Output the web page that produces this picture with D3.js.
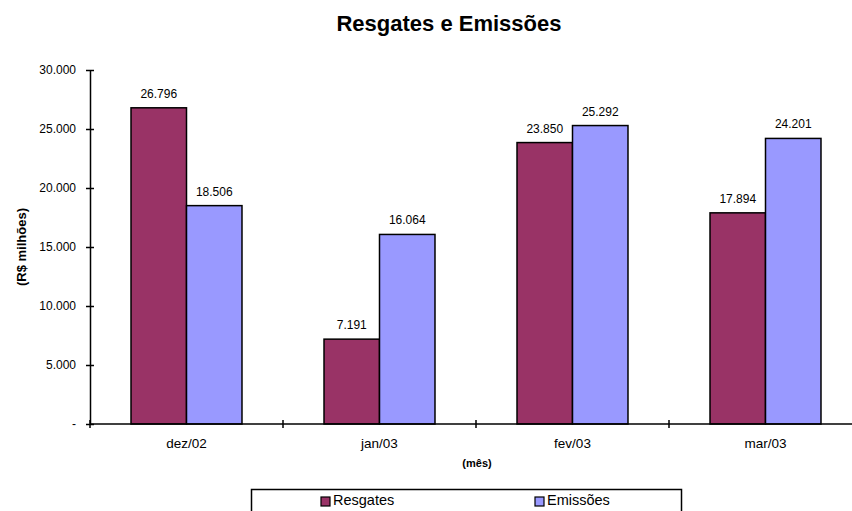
<!DOCTYPE html>
<html>
<head>
<meta charset="utf-8">
<script src="https://cdn.jsdelivr.net/npm/d3@7"></script>
<style>
  html, body { margin: 0; padding: 0; background: #fff; }
  svg { display: block; font-family: Arial, "Liberation Sans", sans-serif; }
</style>
</head>
<body>
<svg id="chart" width="852" height="511"></svg>
<script>
// Monthly redemptions and issuances (R$ millions)
const months = ["dez/02", "jan/03", "fev/03", "mar/03"];
const seriesNames = ["Resgates", "Emissões"];
const resgates = [26796, 7191, 23850, 17894];
const emissoes = [18506, 16064, 25292, 24201];
const yTicks = [0, 5000, 10000, 15000, 20000, 25000, 30000];
const seriesColors = ["#993366", "#9999FF"];

const svg = d3.select("#chart");
const plot = { left: 90, right: 862, top: 70, bottom: 424 };

const ptBR = d3.formatLocale({ decimal: ",", thousands: ".", grouping: [3], currency: ["R$", ""] });
const fmt = ptBR.format(",d");
const tickFmt = v => v === 0 ? "-" : fmt(v);

const y = d3.scaleLinear().domain([0, 30000]).range([plot.bottom, plot.top]);
const x0 = d3.scaleBand().domain(months).range([plot.left, plot.right]).padding(0);
const x1 = d3.scaleBand().domain(seriesNames).range([0, x0.bandwidth()])
  .paddingInner(0).paddingOuter(0.739);
const color = d3.scaleOrdinal().domain(seriesNames).range(seriesColors);

const rows = months.map((m, i) => ({ month: m, values: [
  { key: "Resgates", value: resgates[i] },
  { key: "Emissões", value: emissoes[i] }
]}));

// Title
svg.append("text")
  .attr("x", 449).attr("y", 31)
  .attr("text-anchor", "middle")
  .style("font-size", "22px").style("font-weight", "bold")
  .text("Resgates e Emissões");

// Bars
const groups = svg.append("g").selectAll("g")
  .data(rows).join("g")
  .attr("transform", d => `translate(${x0(d.month)},0)`);

groups.selectAll("rect")
  .data(d => d.values).join("rect")
  .attr("x", d => x1(d.key))
  .attr("y", d => y(d.value))
  .attr("width", x1.bandwidth())
  .attr("height", d => y(0) - y(d.value))
  .attr("fill", d => color(d.key))
  .attr("stroke", "#000")
  .attr("stroke-width", 1.5);

groups.selectAll("text.val")
  .data(d => d.values).join("text")
  .attr("class", "val")
  .attr("x", d => x1(d.key) + x1.bandwidth() / 2)
  .attr("y", d => y(d.value) - 10)
  .attr("text-anchor", "middle")
  .style("font-size", "12px")
  .text(d => fmt(d.value));

// Y axis
const yAxis = d3.axisLeft(y).tickValues(yTicks).tickFormat(tickFmt)
  .tickSizeInner(4).tickSizeOuter(0).tickPadding(10);
const yg = svg.append("g").attr("transform", `translate(${plot.left},0)`).call(yAxis);
yg.select(".domain").attr("stroke", "#000").attr("stroke-width", 1.5);
yg.selectAll(".tick line").attr("x1", -4).attr("x2", 4).attr("stroke", "#000").attr("stroke-width", 1.5);
yg.selectAll(".tick text").style("font-size", "12px").attr("fill", "#000")
  .attr("font-family", "Arial, 'Liberation Sans', sans-serif");

// X axis with tick marks at category boundaries
const xg = svg.append("g");
xg.append("line")
  .attr("x1", plot.left).attr("x2", plot.right)
  .attr("y1", y(0)).attr("y2", y(0))
  .attr("stroke", "#000").attr("stroke-width", 1.5);
const bounds = months.map(m => x0(m)).concat([x0(months[months.length - 1]) + x0.bandwidth()]);
xg.selectAll("line.xt").data(bounds).join("line")
  .attr("class", "xt")
  .attr("x1", d => d).attr("x2", d => d)
  .attr("y1", y(0) - 4).attr("y2", y(0) + 4)
  .attr("stroke", "#000").attr("stroke-width", 1.5);
xg.selectAll("text.cat").data(months).join("text")
  .attr("class", "cat")
  .attr("x", d => x0(d) + x0.bandwidth() / 2)
  .attr("y", 448)
  .attr("text-anchor", "middle")
  .style("font-size", "13.5px")
  .text(d => d);

// Axis titles
svg.append("text")
  .attr("x", 477).attr("y", 467)
  .attr("text-anchor", "middle")
  .style("font-size", "11px").style("font-weight", "bold")
  .text("(mês)");

svg.append("text")
  .attr("transform", "translate(26,247) rotate(-90)")
  .attr("text-anchor", "middle")
  .style("font-size", "13px").style("font-weight", "bold")
  .text("(R$ milhões)");

// Legend
const legend = svg.append("g");
legend.append("rect")
  .attr("x", 251.5).attr("y", 489.5)
  .attr("width", 430).attr("height", 40)
  .attr("fill", "#fff").attr("stroke", "#000").attr("stroke-width", 1.5);
const legendX = [321, 535];
seriesNames.forEach((s, i) => {
  legend.append("rect")
    .attr("x", legendX[i]).attr("y", 497)
    .attr("width", 9).attr("height", 9)
    .attr("fill", color(s)).attr("stroke", "#000").attr("stroke-width", 1.2);
  legend.append("text")
    .attr("x", legendX[i] + 12).attr("y", 505)
    .style("font-size", "14.5px")
    .text(s);
});
</script>
</body>
</html>
